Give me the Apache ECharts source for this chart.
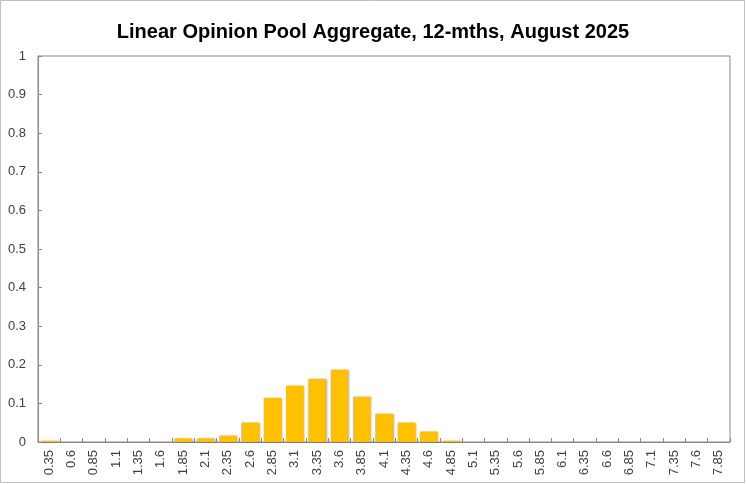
<!DOCTYPE html>
<html>
<head>
<meta charset="utf-8">
<script src="https://cdn.jsdelivr.net/npm/echarts@6/dist/echarts.min.js"></script>
<style>
  html, body { margin: 0; padding: 0; background: #fff; }
  #chart { width: 746px; height: 484px; }
</style>
</head>
<body>
<div id="chart"></div>
<script>
// bucket midpoints (%), step 0.25
var categories = ['0.35', '0.6', '0.85', '1.1', '1.35', '1.6', '1.85', '2.1', '2.35', '2.6',
  '2.85', '3.1', '3.35', '3.6', '3.85', '4.1', '4.35', '4.6', '4.85', '5.1',
  '5.35', '5.6', '5.85', '6.1', '6.35', '6.6', '6.85', '7.1', '7.35', '7.6', '7.85'];
// probability mass
var probs = [0.003, 0, 0, 0, 0, 0, 0.009, 0.009, 0.016, 0.050,
  0.114, 0.146, 0.163, 0.187, 0.117, 0.073, 0.050, 0.027, 0.003, 0,
  0, 0, 0, 0, 0, 0, 0, 0, 0, 0, 0];
var yTicks = [0, 0.1, 0.2, 0.3, 0.4, 0.5, 0.6, 0.7, 0.8, 0.9, 1];

var chart = echarts.init(document.getElementById('chart'));
var axisGrey = '#898989';

var option = {
  backgroundColor: '#fff',
  animation: false,
  title: {
    text: 'Linear Opinion Pool Aggregate, 12-mths, August 2025',
    left: 'center',
    top: 17,
    textStyle: {
      fontFamily: 'Liberation Sans',
      fontWeight: 'bold',
      fontSize: 20,
      color: '#000'
    }
  },
  graphic: [{
    type: 'rect',
    shape: { x: 0.5, y: 0.5, width: 744, height: 482 },
    style: { fill: 'none', stroke: '#bfbfbf', lineWidth: 1 },
    silent: true
  }],
  grid: {
    left: 38,
    right: 16,
    top: 56,
    bottom: 42,
    show: true,
    borderColor: axisGrey,
    borderWidth: 1
  },
  xAxis: {
    type: 'category',
    data: categories,
    boundaryGap: true,
    axisLine: { lineStyle: { color: axisGrey } },
    axisTick: { show: true, interval: 0, length: 4, inside: true, lineStyle: { color: axisGrey } },
    axisLabel: {
      interval: 0,
      rotate: 90,
      margin: 8,
      fontFamily: 'Liberation Sans',
      fontSize: 13,
      color: '#404040'
    }
  },
  yAxis: {
    type: 'value',
    min: 0,
    max: 1,
    interval: 0.1,
    splitLine: { show: false },
    axisLine: { show: true, lineStyle: { color: axisGrey } },
    axisTick: { show: true, length: 4, inside: true, lineStyle: { color: axisGrey } },
    axisLabel: {
      margin: 12,
      fontFamily: 'Liberation Sans',
      fontSize: 13,
      color: '#404040',
      formatter: function (v) {
        var t = yTicks.find(function (y) { return Math.abs(y - v) < 1e-9; });
        return t === undefined ? '' : String(t);
      }
    }
  },
  series: [{
    type: 'bar',
    data: probs,
    barCategoryGap: '22%',
    itemStyle: {
      color: '#FFC000',
      shadowColor: 'rgba(0,0,0,0.35)',
      shadowBlur: 2,
      shadowOffsetX: 1,
      shadowOffsetY: 0
    }
  }]
};

chart.setOption(option);
</script>
</body>
</html>
